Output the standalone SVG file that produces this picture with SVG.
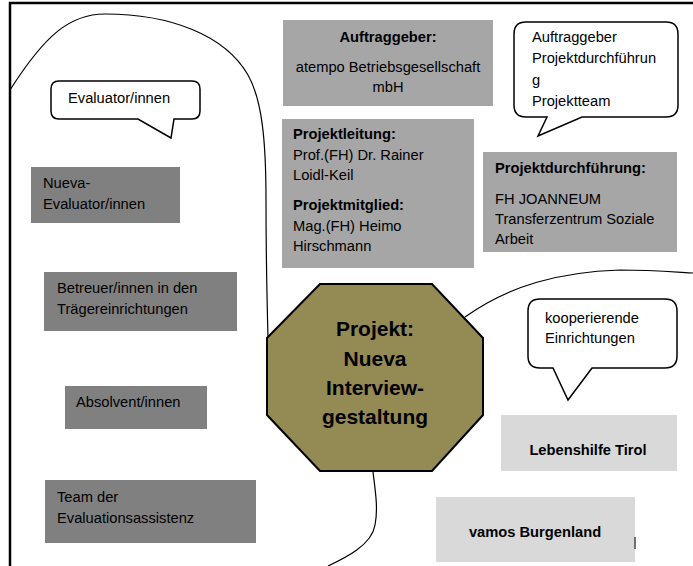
<svg xmlns="http://www.w3.org/2000/svg" width="693" height="566" viewBox="0 0 693 566">
<style>
text{font-family:"Liberation Sans",Arial,sans-serif;font-size:14.7px;fill:#000}
.b{font-weight:bold}
.c{text-anchor:middle}
.dk{fill:#808080}
.md{fill:#A6A6A6}
.lt{fill:#D9D9D9}
.bub{fill:#fff;stroke:#000;stroke-width:1.5}
.cv{fill:none;stroke:#000;stroke-width:1.2}
</style>
<rect width="693" height="566" fill="#fff"/>
<g id="frame" fill="none" stroke="#000" stroke-width="2.5">
<path d="M10,566 V3 H693"/>
</g>
<g id="connectors">
<path class="cv" d="M10,90 C45,35 70,14 105,14 C170,14 225,35 248,75 C262,100 266,140 266,200 C266,260 267,300 268,338"/>
<path class="cv" d="M373,472 C376,495 378,510 375,525 C372,545 345,558 328,566"/>
<path class="cv" d="M465,317 C510,285 560,272 620,270 C650,270 675,272 693,273"/>
</g>
<g id="bubble-evaluator">
<path class="bub" d="M59,81 H192 Q200,81 200,89 V111 Q200,119 192,119 H174 L171,138 L138,119 H59 Q51,119 51,111 V89 Q51,81 59,81 Z"/>
<text x="68" y="103">Evaluator/innen</text>
</g>
<g id="nueva-evaluator">
<rect class="dk" x="31" y="167" width="149" height="56"/>
<text x="43" y="188">Nueva-</text>
<text x="43" y="209">Evaluator/innen</text>
</g>
<g id="betreuer">
<rect class="dk" x="44" y="272" width="193" height="59"/>
<text x="57" y="293">Betreuer/innen in den</text>
<text x="57" y="314">Trägereinrichtungen</text>
</g>
<g id="absolvent">
<rect class="dk" x="65" y="386" width="142" height="43"/>
<text x="76" y="407">Absolvent/innen</text>
</g>
<g id="team">
<rect class="dk" x="45" y="480" width="211" height="63"/>
<text x="57" y="502">Team der</text>
<text x="57" y="523">Evaluationsassistenz</text>
</g>
<g id="auftraggeber">
<rect class="md" x="283" y="20" width="210" height="86"/>
<text class="b c" x="388" y="42">Auftraggeber:</text>
<text class="c" x="388" y="72">atempo Betriebsgesellschaft</text>
<text class="c" x="388" y="92">mbH</text>
</g>
<g id="projektleitung">
<rect class="md" x="282" y="119" width="192" height="149"/>
<text class="b" x="293" y="139">Projektleitung:</text>
<text x="293" y="160">Prof.(FH) Dr. Rainer</text>
<text x="293" y="180">Loidl-Keil</text>
<text class="b" x="293" y="210">Projektmitglied:</text>
<text x="293" y="231">Mag.(FH) Heimo</text>
<text x="293" y="251">Hirschmann</text>
</g>
<g id="bubble-team">
<path class="bub" d="M526,22 H666 Q678,22 678,34 V105 Q678,117 666,117 H582 L538,136 L547,117 H526 Q514,117 514,105 V34 Q514,22 526,22 Z"/>
<text x="532" y="42">Auftraggeber</text>
<text x="532" y="63">Projektdurchführun</text>
<text x="532" y="85">g</text>
<text x="532" y="106">Projektteam</text>
</g>
<g id="projektdurchfuehrung">
<rect class="md" x="483" y="152" width="194" height="100"/>
<text class="b" x="495" y="173">Projektdurchführung:</text>
<text x="495" y="204">FH JOANNEUM</text>
<text x="495" y="224">Transferzentrum Soziale</text>
<text x="495" y="244">Arbeit</text>
</g>
<g id="projekt">
<polygon points="320,284 432,284 483,338 483,415 432,471 320,471 267,415 267,338" fill="#948A54" stroke="#000" stroke-width="2"/>
<text class="b c" x="375" y="336" style="font-size:21px">Projekt:</text>
<text class="b c" x="375" y="366" style="font-size:21px">Nueva</text>
<text class="b c" x="375" y="395" style="font-size:21px">Interview-</text>
<text class="b c" x="375" y="424" style="font-size:21px">gestaltung</text>
</g>
<g id="bubble-kooperierende">
<path class="bub" d="M540,299 H665 Q677,299 677,311 V356 Q677,368 665,368 H592 L568,400 L553,368 H540 Q528,368 528,356 V311 Q528,299 540,299 Z"/>
<text x="545" y="323">kooperierende</text>
<text x="545" y="343">Einrichtungen</text>
</g>
<g id="lebenshilfe">
<rect class="lt" x="501" y="415" width="176" height="56"/>
<text class="b c" x="588" y="455">Lebenshilfe Tirol</text>
</g>
<g id="vamos">
<rect class="lt" x="436" y="497" width="199" height="65"/>
<text class="b c" x="535" y="537">vamos Burgenland</text>
<line x1="635" y1="537" x2="635" y2="549" stroke="#444" stroke-width="1.5"/>
</g>
</svg>
